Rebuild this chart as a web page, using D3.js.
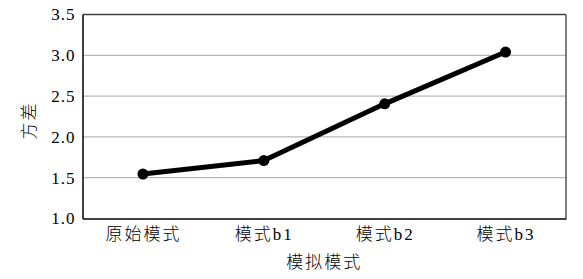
<!DOCTYPE html>
<html>
<head>
<meta charset="utf-8">
<script src="https://cdn.jsdelivr.net/npm/d3@7"></script>
<style>
  html, body { margin: 0; padding: 0; background: #fff; }
  svg { display: block; }
  .num { font-family: "Liberation Serif", "Times New Roman", serif; }
  .cjk { font-family: "Liberation Serif", "Noto Sans CJK SC", serif; font-weight: 300; }
</style>
</head>
<body>
<script>
const categories = ["原始模式", "模式b1", "模式b2", "模式b3"];
const values = [1.545, 1.71, 2.405, 3.04];
const yTicks = [1.0, 1.5, 2.0, 2.5, 3.0, 3.5];
const xTitle = "模拟模式";
const yTitle = "方差";

const W = 583, H = 279;
const m = { left: 82.5, right: 17, top: 14.5, bottom: 60.5 };
const svg = d3.select("body").append("svg").attr("width", W).attr("height", H);

const x = d3.scalePoint().domain(categories).range([m.left, W - m.right]).padding(0.5);
const y = d3.scaleLinear().domain([1.0, 3.5]).range([H - m.bottom, m.top]);

// grid lines
svg.append("g").selectAll("line").data(yTicks.slice(1, -1)).join("line")
  .attr("x1", m.left).attr("x2", W - m.right)
  .attr("y1", d => y(d)).attr("y2", d => y(d))
  .attr("stroke", "#a6a6a6").attr("stroke-width", 1);

// frame top/right
svg.append("line").attr("x1", m.left).attr("x2", W - m.right)
  .attr("y1", m.top).attr("y2", m.top).attr("stroke", "#404040").attr("stroke-width", 1.5);
svg.append("line").attr("x1", W - m.right).attr("x2", W - m.right)
  .attr("y1", m.top).attr("y2", H - m.bottom).attr("stroke", "#555").attr("stroke-width", 1.5);

// y axis
const yAxis = svg.append("g").attr("transform", `translate(${m.left},0)`)
  .call(d3.axisLeft(y).tickValues(yTicks).tickFormat(d3.format(".1f")).tickSize(0).tickPadding(7))
  .attr("font-family", null).attr("font-size", null);
yAxis.select(".domain").attr("stroke", "#000").attr("stroke-width", 1.5);
yAxis.selectAll("text").attr("class", "num").style("font-size", "17px").attr("fill", "#000")
  .style("letter-spacing", "1px");

// x axis
const xAxis = svg.append("g").attr("transform", `translate(0,${H - m.bottom})`)
  .call(d3.axisBottom(x).tickSize(0).tickPadding(9))
  .attr("font-family", null).attr("font-size", null);
xAxis.select(".domain").attr("stroke", "#000").attr("stroke-width", 1.5);
xAxis.selectAll("text").attr("class", "cjk").style("font-size", "17px").attr("fill", "#000")
  .style("letter-spacing", "2px");

// line
const line = d3.line().x((d, i) => x(categories[i])).y(d => y(d));
svg.append("path").datum(values).attr("d", line)
  .attr("fill", "none").attr("stroke", "#000").attr("stroke-width", 5).attr("stroke-linejoin", "round");
svg.append("g").selectAll("circle").data(values).join("circle")
  .attr("cx", (d, i) => x(categories[i])).attr("cy", d => y(d)).attr("r", 5.5).attr("fill", "#000");

// titles
svg.append("text").attr("class", "cjk").attr("x", (m.left + W - m.right) / 2).attr("y", 268)
  .attr("text-anchor", "middle").attr("fill", "#000").style("font-size", "17px")
  .style("letter-spacing", "2px").text(xTitle);
svg.append("text").attr("class", "cjk").attr("fill", "#000")
  .attr("transform", `translate(35,${(m.top + H - m.bottom) / 2 + 4}) rotate(-90)`)
  .attr("text-anchor", "middle").style("font-size", "17px")
  .style("letter-spacing", "2px").text(yTitle);
</script>
</body>
</html>
